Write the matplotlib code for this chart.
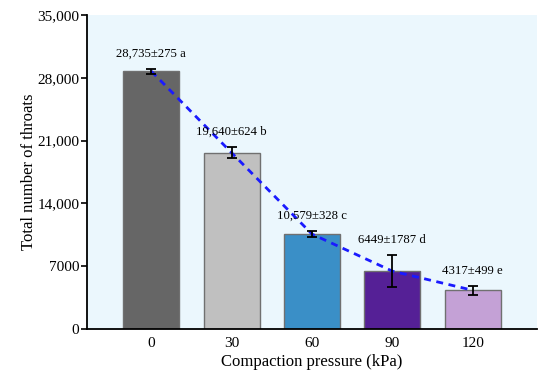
import numpy as np
import matplotlib.pyplot as plt

plt.rcParams['font.family'] = ['Liberation Serif', 'DejaVu Serif']

pressures = ['0', '30', '60', '90', '120']
throats = [28735, 19640, 10579, 6449, 4317]
errors = [275, 624, 328, 1787, 499]
letters = ['a', 'b', 'c', 'd', 'e']
labels = ['28,735', '19,640', '10,579', '6449', '4317']
colors = ['#666666', '#c0c0c0', '#3a8fc7', '#552096', '#c4a1d6']


def main():
    fig = plt.figure(figsize=(5.5, 3.8), dpi=100)
    ax = fig.add_axes([87 / 550, 1 - 329 / 380, 450 / 550, 314 / 380])
    ax.set_facecolor('#ebf7fd')

    x = np.arange(len(pressures))
    ax.bar(x, throats, width=0.7, color=colors, edgecolor='#707070', linewidth=1.0, zorder=2)
    ax.errorbar(x, throats, yerr=errors, fmt='none', ecolor='black',
                elinewidth=1.3, capsize=3.5, capthick=1.3, zorder=4)
    ax.plot(x, throats, color='#1a1aff', linestyle=(0, (2.5, 2.0)), linewidth=2.0, zorder=3)

    for xi, m, e, lab, let in zip(x, throats, errors, labels, letters):
        txt = '{}\u00b1{} {}'.format(lab, e, let)
        ax.annotate(txt, (xi, m + e), xytext=(0, 6.5), textcoords='offset points',
                    ha='center', va='bottom', fontsize=9.2, zorder=5)

    ax.set_xlim(-0.8, 4.8)
    ax.set_ylim(0, 35000)
    ax.set_yticks([0, 7000, 14000, 21000, 28000, 35000])
    ax.set_yticklabels(['0', '7000', '14,000', '21,000', '28,000', '35,000'])
    ax.set_xticks(x)
    ax.set_xticklabels(pressures)
    ax.tick_params(axis='x', length=0, labelsize=11, pad=6)
    ax.tick_params(axis='y', direction='out', length=4, width=1.2, labelsize=11, pad=1.5)

    for s in ['top', 'right']:
        ax.spines[s].set_visible(False)
    for s in ['left', 'bottom']:
        ax.spines[s].set_linewidth(1.3)

    ax.set_xlabel('Compaction pressure (kPa)', fontsize=12, labelpad=3)
    ax.set_ylabel('Total number of throats', fontsize=12, labelpad=0)

    fig.savefig('out.png', dpi=100)


if __name__ == "__main__":
    main()
